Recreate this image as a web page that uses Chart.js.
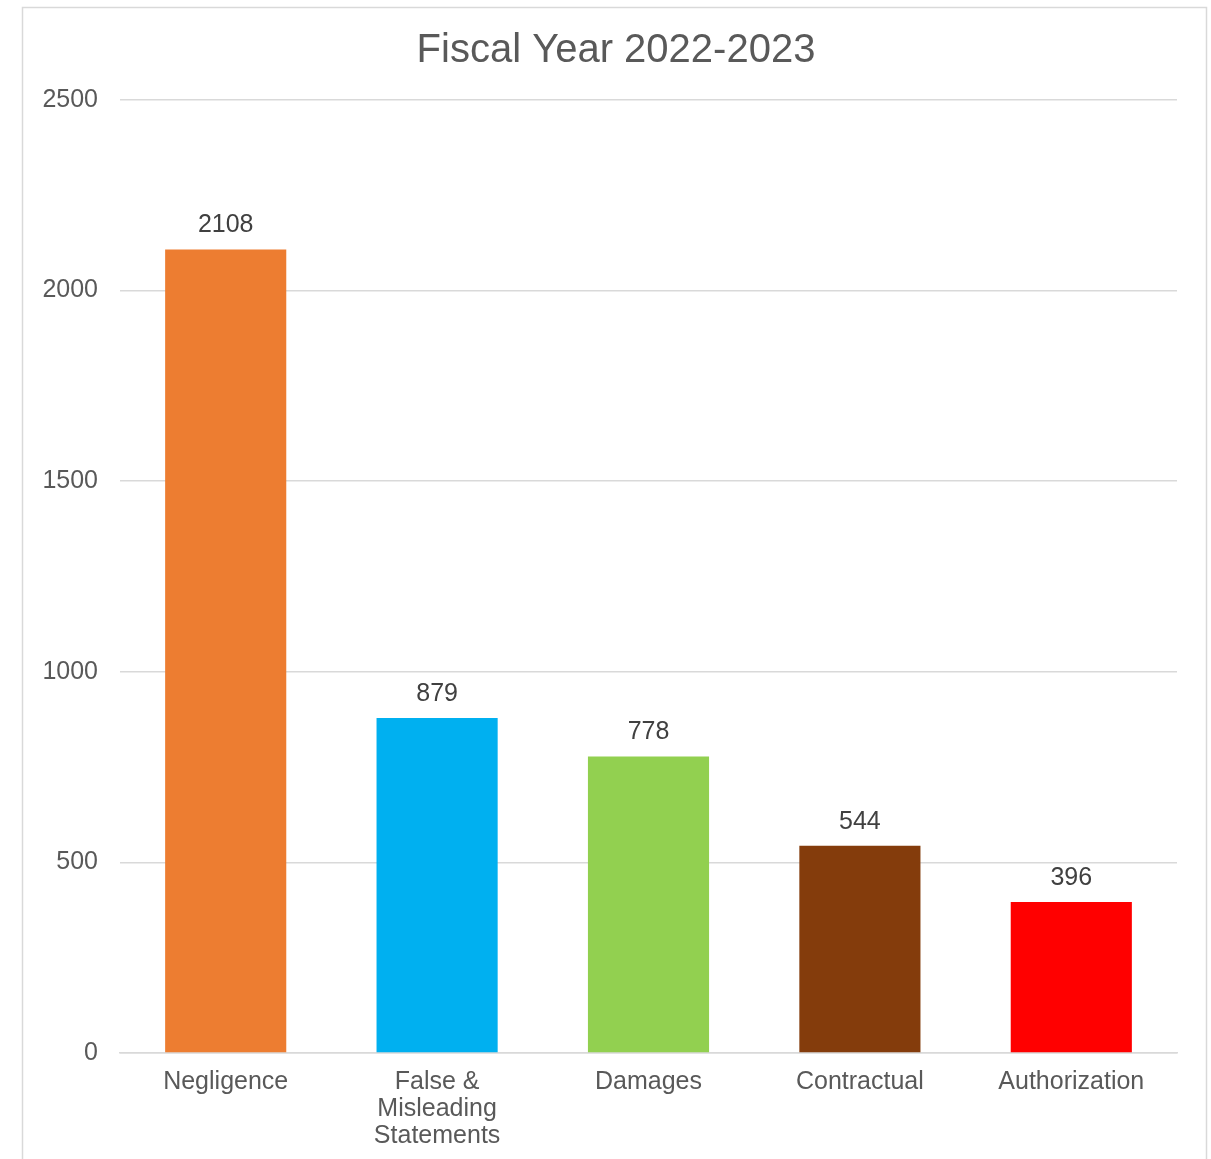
<!DOCTYPE html>
<html>
<head>
<meta charset="utf-8">
<script src="https://cdn.jsdelivr.net/npm/chart.js@4"></script>
<style>
  html, body { margin: 0; padding: 0; background: #fff; }
  #wrap { width: 1211px; height: 1159px; }
</style>
</head>
<body>
<div id="wrap"><canvas id="myChart" width="1211" height="1159"></canvas></div>
<script>
const chartTitle = "Fiscal Year 2022-2023";
const categories = ["Negligence", ["False &", "Misleading", "Statements"], "Damages", "Contractual", "Authorization"];
const values = [2108, 879, 778, 544, 396];
const barColors = ["#ED7D31", "#00B0F0", "#92D050", "#843C0C", "#FF0000"];
const yTicks = [0, 500, 1000, 1500, 2000, 2500];

const FONT = "'Liberation Sans', Arial, sans-serif";

// light gray frame and the title, centred on the frame
const frame = {
  id: "frame",
  beforeDraw(chart) {
    const ctx = chart.ctx;
    ctx.save();
    ctx.strokeStyle = "#d9d9d9";
    ctx.lineWidth = 1.5;
    ctx.strokeRect(22.5, 7.5, 1184, 1200);
    ctx.font = "40px " + FONT;
    ctx.fillStyle = "#595959";
    ctx.textAlign = "center";
    ctx.textBaseline = "middle";
    ctx.fillText(chartTitle, 616, 51);
    ctx.restore();
  },
};

// value labels above the bars
const valueLabels = {
  id: "valueLabels",
  afterDatasetsDraw(chart) {
    const ctx = chart.ctx;
    const meta = chart.getDatasetMeta(0);
    ctx.save();
    ctx.font = "25px " + FONT;
    ctx.fillStyle = "#404040";
    ctx.textAlign = "center";
    ctx.textBaseline = "middle";
    meta.data.forEach((bar, i) => {
      ctx.fillText(String(values[i]), bar.x, bar.y - 24);
    });
    ctx.restore();
  },
};

const config = {
  type: "bar",
  data: {
    labels: categories,
    datasets: [
      {
        data: values,
        backgroundColor: barColors,
        borderWidth: 0,
        barPercentage: 1,
        categoryPercentage: 0.573,
      },
    ],
  },
  options: {
    responsive: false,
    animation: false,
    layout: {
      padding: { left: 22, right: 34, top: 100, bottom: 0 },
    },
    scales: {
      x: {
        grid: { display: false, drawTicks: false },
        border: { color: "#d9d9d9", width: 1.5 },
        ticks: {
          color: "#595959",
          padding: 16,
          maxRotation: 0,
          autoSkip: false,
          font: { size: 25, family: FONT, lineHeight: 1.08 },
        },
        afterFit(scale) {
          scale.height = 106;
        },
      },
      y: {
        min: 0,
        max: 2500,
        afterBuildTicks(scale) {
          scale.ticks = yTicks.map((v) => ({ value: v }));
        },
        grid: { color: "#d9d9d9", lineWidth: 1.5, drawTicks: false },
        border: { display: false },
        ticks: {
          color: "#595959",
          padding: 22,
          font: { size: 25, family: FONT },
          callback: (v) => String(v),
        },
        afterFit(scale) {
          scale.width = 98;
        },
      },
    },
    plugins: {
      legend: { display: false },
      tooltip: { enabled: false },
      title: { display: false },
    },
  },
  plugins: [frame, valueLabels],
};

new Chart(document.getElementById("myChart"), config);
</script>
</body>
</html>
